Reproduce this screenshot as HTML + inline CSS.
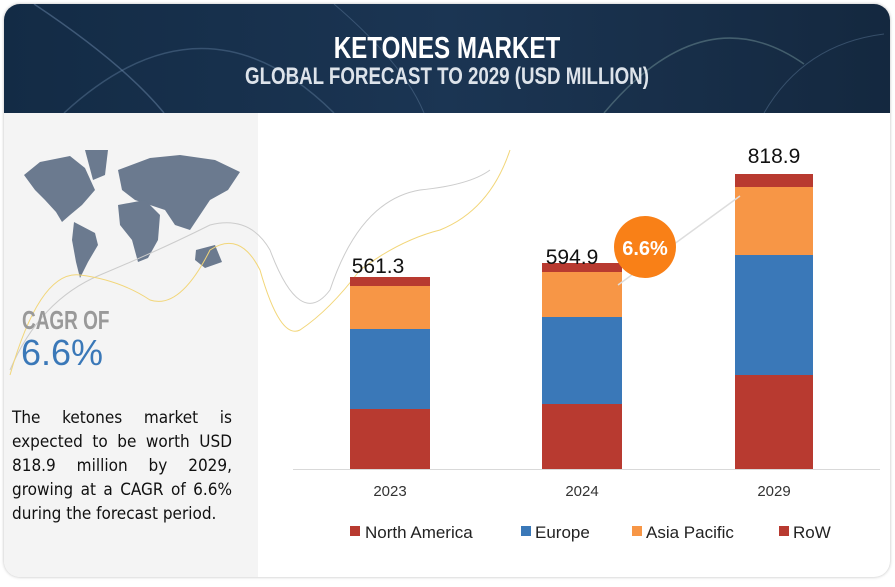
<!DOCTYPE html>
<html><head><meta charset="utf-8"><style>
body{margin:0;width:895px;height:587px;background:#fff;position:relative;overflow:hidden;font-family:"Liberation Sans",sans-serif}
.abs{position:absolute}
</style></head><body>
<div class="abs" style="left:4px;top:4px;width:886px;height:573px;border-radius:16px;background:#fff;box-shadow:0 0 3px #bbb;overflow:hidden">
 <div class="abs" style="left:0;top:0;width:886px;height:109px;background:linear-gradient(90deg,#132b45,#1b3553 50%,#14283f)">
  <svg class="abs" width="886" height="109" style="left:0;top:0">
   <path d="M30 0 Q120 60 160 109" stroke="#6a86a8" stroke-width="1.5" fill="none" opacity=".5"/>
   <path d="M60 109 Q200 -20 330 109" stroke="#6a86a8" stroke-width="1.5" fill="none" opacity=".4"/>
   <path d="M600 109 Q700 -10 800 60" stroke="#8aa" stroke-width="1.5" fill="none" opacity=".4"/>
   <path d="M330 0 Q400 60 420 109" stroke="#6a86a8" stroke-width="1" fill="none" opacity=".4"/>
   <path d="M760 109 Q800 40 880 30" stroke="#6a86a8" stroke-width="1" fill="none" opacity=".4"/>
  </svg>
  <div class="abs" style="left:0;width:886px;top:26px;text-align:center;color:#fff;font-weight:bold;font-size:31px;transform:scaleX(.78)">KETONES MARKET</div>
  <div class="abs" style="left:0;width:886px;top:59px;text-align:center;color:#dde3ea;font-weight:bold;font-size:24px;transform:scaleX(.78)">GLOBAL FORECAST TO 2029 (USD MILLION)</div>
 </div>
 <div class="abs" style="left:0;top:109px;width:254px;height:464px;background:#f4f4f4"></div>
</div>
<svg class="abs" width="895" height="587" style="left:0;top:0">
 <g fill="#6b7a8f">
  <path d="M24 175 L40 162 L70 156 L85 168 L95 190 L82 205 L70 215 L62 222 L56 212 L45 200 L35 190 Z"/>
  <path d="M85 150 L108 150 L105 175 L93 180 Z"/>
  <path d="M74 222 L95 233 L98 245 L88 262 L80 278 L76 262 L72 240 Z"/>
  <path d="M118 170 L150 158 L180 155 L215 160 L240 172 L228 190 L210 200 L200 215 L190 230 L175 225 L165 210 L150 205 L135 200 L122 190 Z"/>
  <path d="M118 205 L145 200 L160 215 L158 240 L148 258 L138 262 L132 240 L120 225 Z"/>
  <path d="M196 250 L215 245 L222 262 L205 268 L195 260 Z"/>
 </g>
 <path d="M10 370 Q40 300 100 275 Q160 250 210 225 Q250 215 270 250 Q300 330 330 290 Q360 200 420 190 Q470 185 490 170" stroke="#ccc" fill="none" stroke-width="1"/>
 <path d="M10 375 Q40 270 80 275 Q120 280 150 300 Q180 310 210 250 Q240 230 260 270 Q280 340 300 330 Q330 310 360 270 Q400 240 440 230 Q490 210 510 150" stroke="#f2d679" fill="none" stroke-width="1"/>
 <line x1="293" y1="469.5" x2="880" y2="469.5" stroke="#d9d9d9"/>
 <rect x="350" y="277" width="80" height="9" fill="#b83a30"/>
 <rect x="350" y="286" width="80" height="43" fill="#f79646"/>
 <rect x="350" y="329" width="80" height="80" fill="#3a78b8"/>
 <rect x="350" y="409" width="80" height="60" fill="#b83a30"/>
 <rect x="542" y="263" width="80" height="9" fill="#b83a30"/>
 <rect x="542" y="272" width="80" height="45" fill="#f79646"/>
 <rect x="542" y="317" width="80" height="87" fill="#3a78b8"/>
 <rect x="542" y="404" width="80" height="65" fill="#b83a30"/>
 <rect x="735" y="174" width="78" height="13" fill="#b83a30"/>
 <rect x="735" y="187" width="78" height="68" fill="#f79646"/>
 <rect x="735" y="255" width="78" height="120" fill="#3a78b8"/>
 <rect x="735" y="375" width="78" height="94" fill="#b83a30"/>
 <line x1="618" y1="285" x2="740" y2="196" stroke="#ddd" stroke-width="1.5"/>
 <circle cx="645" cy="247" r="31" fill="#f98017"/>
 <text x="645" y="255" text-anchor="middle" fill="#fff" font-size="20" font-weight="bold" font-family="Liberation Sans">6.6%</text>
 <g font-family="Liberation Sans" font-size="21" fill="#111" text-anchor="middle">
  <text x="378" y="273">561.3</text>
  <text x="572" y="264">594.9</text>
  <text x="774" y="163">818.9</text>
 </g>
 <g font-family="Liberation Sans" font-size="15" fill="#333" text-anchor="middle">
  <text x="390" y="496">2023</text><text x="582" y="496">2024</text><text x="774" y="496">2029</text>
 </g>
 <g font-family="Liberation Sans" font-size="17" fill="#222">
  <rect x="350" y="526" width="10" height="10" fill="#b83a30"/><text x="365" y="538">North America</text>
  <rect x="521" y="526" width="10" height="10" fill="#3a78b8"/><text x="535" y="538">Europe</text>
  <rect x="632" y="526" width="10" height="10" fill="#f79646"/><text x="646" y="538">Asia Pacific</text>
  <rect x="779" y="526" width="10" height="10" fill="#b83a30"/><text x="793" y="538">RoW</text>
 </g>
</svg>
<div class="abs" style="left:22px;top:305px;font-size:26px;font-weight:bold;color:#999;transform:scaleX(.73);transform-origin:left">CAGR OF</div>
<div class="abs" style="left:21px;top:331px;font-size:36px;color:#3a78b8;line-height:44px">6.6%</div>
<div class="abs" style="left:12px;top:406px;width:220px;font-size:17px;line-height:24px;color:#111;text-align:justify;font-family:'DejaVu Sans Condensed','Liberation Sans',sans-serif">The ketones market is expected to be worth USD 818.9 million by 2029, growing at a CAGR of 6.6% during the forecast period.</div>
</body></html>
